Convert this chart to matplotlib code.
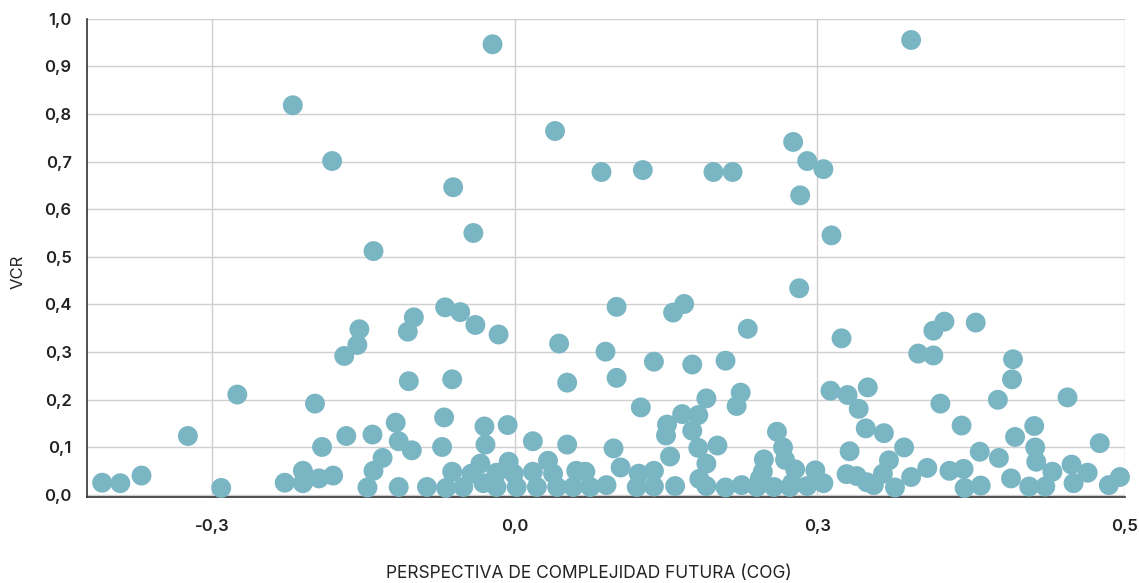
import matplotlib.pyplot as plt
import numpy as np

plt.rcParams['font.family'] = ['Inter', 'DejaVu Sans']

# === Data ===
cog = np.array([
    # upper points
    -0.220, -0.181, -0.140, -0.022, -0.061, -0.041, 0.040, 0.086, 0.127, 0.197,
    0.216, 0.276, 0.290, 0.306, 0.283, 0.314, 0.393, 0.282,
    # middle band
    -0.275, -0.154, -0.156, -0.169, -0.198, -0.100, -0.106, -0.105, -0.069, -0.054,
    -0.039, -0.016, -0.062, 0.044, 0.052, 0.090, 0.101, 0.101, 0.138, 0.157,
    0.168, 0.176, 0.209, 0.231, 0.224, 0.220, 0.190, 0.313, 0.324, 0.330,
    0.350, 0.341, 0.400, 0.415, 0.415, 0.426, 0.457, 0.422, 0.494, 0.493,
    0.479, 0.548, 0.125,
    # lower band, left
    -0.409, -0.391, -0.370, -0.324, -0.291, -0.167, -0.191, -0.228, -0.210, -0.210,
    -0.194, -0.180, -0.141, -0.118, -0.115, -0.102, -0.131, -0.140, -0.146, -0.115,
    -0.087, -0.070, -0.072, -0.030, -0.007, -0.029, 0.018, 0.052, 0.098, 0.105,
    -0.062, -0.068, -0.051, -0.043, -0.034, -0.031, -0.018, -0.006, -0.001, -0.018,
    0.002, 0.018, 0.033, 0.038, 0.022, 0.042, 0.058, 0.070, 0.075, 0.091,
    # lower band, middle
    0.166, 0.182, 0.151, 0.150, 0.176, 0.154, 0.182, 0.201, 0.190, 0.123,
    0.138, 0.121, 0.138, 0.159, 0.183, 0.190, 0.209, 0.225, 0.240, 0.257,
    0.273, 0.290, 0.306, 0.247, 0.246, 0.260, 0.266, 0.268, 0.278, 0.298,
    0.332, 0.329, 0.339, 0.349, 0.356, 0.348, 0.366, 0.243, 0.275, 0.061,
    # lower band, right
    0.443, 0.496, 0.515, 0.516, 0.517, 0.580, 0.386, 0.371, 0.365, 0.377,
    0.393, 0.409, 0.431, 0.445, 0.446, 0.462, 0.461, 0.480, 0.492, 0.510,
    0.526, 0.533, 0.552, 0.554, 0.568, 0.589, 0.600,
])
vcr = np.array([
    0.818, 0.701, 0.512, 0.946, 0.646, 0.550, 0.764, 0.678, 0.682, 0.678,
    0.678, 0.741, 0.701, 0.684, 0.629, 0.545, 0.955, 0.434,
    0.211, 0.348, 0.315, 0.292, 0.192, 0.373, 0.343, 0.239, 0.394, 0.384,
    0.357, 0.337, 0.243, 0.318, 0.236, 0.301, 0.395, 0.246, 0.280, 0.383,
    0.401, 0.274, 0.282, 0.349, 0.215, 0.187, 0.203, 0.219, 0.329, 0.210,
    0.226, 0.181, 0.297, 0.293, 0.345, 0.364, 0.362, 0.192, 0.285, 0.243,
    0.200, 0.205, 0.184,
    0.026, 0.025, 0.041, 0.124, 0.015, 0.124, 0.101, 0.026, 0.051, 0.025,
    0.035, 0.041, 0.127, 0.152, 0.113, 0.094, 0.078, 0.051, 0.016, 0.017,
    0.017, 0.163, 0.101, 0.144, 0.147, 0.106, 0.113, 0.106, 0.098, 0.058,
    0.049, 0.015, 0.017, 0.045, 0.066, 0.025, 0.047, 0.070, 0.045, 0.017,
    0.017, 0.049, 0.072, 0.045, 0.017, 0.017, 0.017, 0.049, 0.017, 0.021,
    0.170, 0.168, 0.148, 0.125, 0.135, 0.081, 0.099, 0.104, 0.066, 0.045,
    0.051, 0.017, 0.018, 0.019, 0.034, 0.019, 0.016, 0.021, 0.017, 0.017,
    0.017, 0.019, 0.025, 0.075, 0.049, 0.133, 0.100, 0.074, 0.054, 0.052,
    0.092, 0.044, 0.040, 0.027, 0.021, 0.140, 0.130, 0.035, 0.025, 0.051,
    0.146, 0.122, 0.145, 0.100, 0.070, 0.109, 0.100, 0.073, 0.045, 0.016,
    0.038, 0.057, 0.051, 0.055, 0.015, 0.020, 0.091, 0.078, 0.035, 0.018,
    0.018, 0.049, 0.064, 0.025, 0.047, 0.021, 0.038,
])

x_ticks = [-0.3, 0.0, 0.3, 0.605]
x_tick_labels = ['-0,3', '0,0', '0,3', '0,5']
y_ticks = np.round(np.arange(0, 1.01, 0.1), 1)

# === Plot ===
fig = plt.figure(figsize=(11.39, 5.83), dpi=100)
ax = fig.add_axes([0.0764, 0.1475, 0.9113, 0.8207])

ax.scatter(cog, vcr, s=205, color='#7ab5c3', edgecolors='none', zorder=3,
           clip_on=False)

ax.set_xlim(-0.424, 0.605)
ax.set_ylim(-0.004, 1.0)

ax.set_xticks(x_ticks)
ax.set_xticklabels(x_tick_labels)
ax.set_yticks(y_ticks)
ax.set_yticklabels([f"{v:.1f}".replace('.', ',') for v in y_ticks])

ax.tick_params(axis='both', length=0, labelsize=12, colors='#222222')
ax.tick_params(axis='x', pad=16)
ax.tick_params(axis='y', pad=11)
for lab in ax.get_xticklabels() + ax.get_yticklabels():
    lab.set_fontweight('semibold')

ax.grid(True, color='#cfcfcf', linewidth=1.0, zorder=0)
ax.set_axisbelow(True)

for spine in ['top', 'right']:
    ax.spines[spine].set_visible(False)
for spine in ['left', 'bottom']:
    ax.spines[spine].set_color('#333333')
    ax.spines[spine].set_linewidth(1.2)

ax.set_xlabel('PERSPECTIVA DE COMPLEJIDAD FUTURA (COG)', fontsize=12.5,
              color='#222222', va='center')
ax.xaxis.set_label_coords(0.4836, -0.1595)
ax.set_ylabel('VCR', fontsize=12, color='#222222', va='center')
ax.yaxis.set_label_coords(-0.0665, 0.471)

fig.savefig('out.png', dpi=100)
